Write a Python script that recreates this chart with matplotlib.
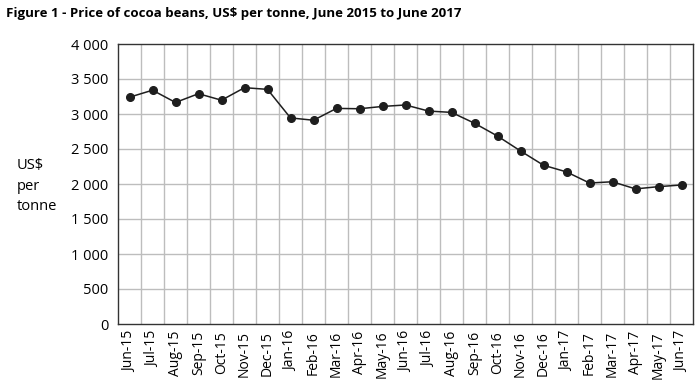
import matplotlib
matplotlib.use("Agg")
import matplotlib.pyplot as plt
import numpy as np

plt.rcParams['font.family'] = ['Open Sans', 'DejaVu Sans']

months = ["Jun-15", "Jul-15", "Aug-15", "Sep-15", "Oct-15", "Nov-15", "Dec-15",
          "Jan-16", "Feb-16", "Mar-16", "Apr-16", "May-16", "Jun-16", "Jul-16",
          "Aug-16", "Sep-16", "Oct-16", "Nov-16", "Dec-16", "Jan-17", "Feb-17",
          "Mar-17", "Apr-17", "May-17", "Jun-17"]
price = [3240, 3340, 3165, 3290, 3197, 3376, 3352,
         2944, 2911, 3080, 3075, 3108, 3129, 3042,
         3023, 2868, 2685, 2472, 2268, 2173, 2014,
         2032, 1930, 1962, 1986]
yticks = [0, 500, 1000, 1500, 2000, 2500, 3000, 3500, 4000]
ylabels = ["0", "500", "1 000", "1 500", "2 000", "2 500", "3 000", "3 500", "4 000"]

fig = plt.figure(figsize=(7, 3.9), dpi=100)
ax = fig.add_axes([118/700, 1-324/390, 575/700, 280/390])

x = np.arange(len(months))
ax.plot(x, price, color="#1e1e1e", lw=1.1, marker="o", ms=5.5, zorder=3)

ax.set_xlim(-0.5, len(months) - 0.5)
ax.set_ylim(0, 4000)
ax.set_yticks(yticks)
ax.set_yticklabels(ylabels, fontsize=10.5)
ax.set_xticks(x)
ax.set_xticklabels(months, rotation=90, fontsize=10)
ax.tick_params(axis="y", length=0, pad=7)
ax.tick_params(axis="x", length=0, pad=5)

# vertical grid between categories, horizontal at ticks
for b in np.arange(-0.5, len(months), 1.0)[1:-1]:
    ax.axvline(b, color="#bdbdbd", lw=1, zorder=1)
for t in yticks[1:-1]:
    ax.axhline(t, color="#bdbdbd", lw=1, zorder=1)

for s in ax.spines.values():
    s.set_color("#333333")
    s.set_linewidth(1)

fig.text(17/700, 1-186/390, "US$\nper\ntonne", fontsize=10.5, ha="left", va="center",
         linespacing=1.5)
fig.text(6/700, 1-14/390,
         "Figure 1 - Price of cocoa beans, US$ per tonne, June 2015 to June 2017",
         fontsize=9.5, fontweight="bold", ha="left", va="center")

fig.savefig("out.png", dpi=100)
